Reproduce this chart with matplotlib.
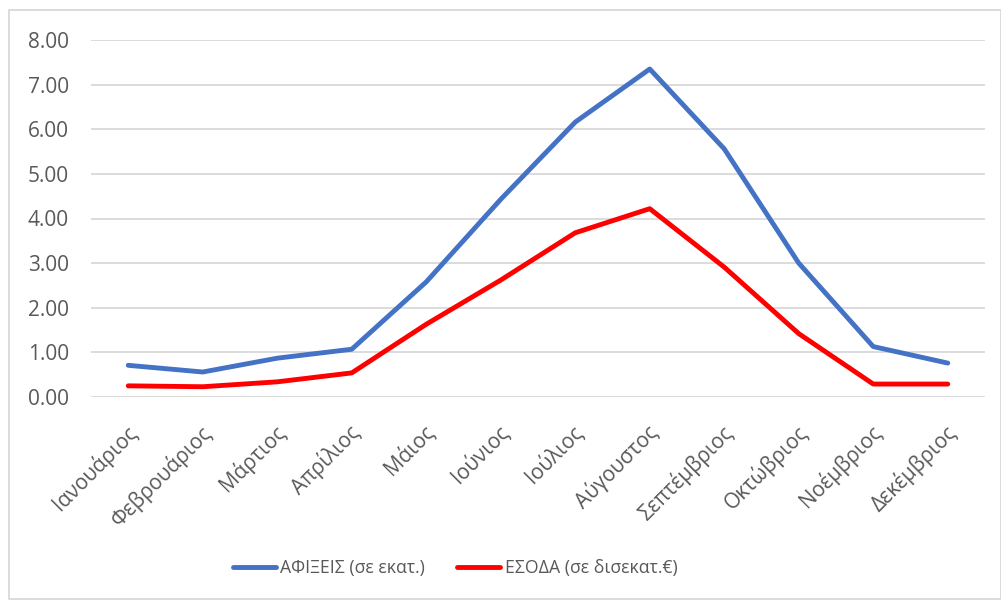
import numpy as np
import matplotlib.pyplot as plt
from matplotlib.patches import Rectangle
from matplotlib import transforms

plt.rcParams['font.family'] = ['Open Sans', 'DejaVu Sans']

months = ['Ιανουάριος', 'Φεβρουάριος', 'Μάρτιος', 'Απρίλιος', 'Μάιος', 'Ιούνιος',
          'Ιούλιος', 'Αύγουστος', 'Σεπτέμβριος', 'Οκτώβριος', 'Νοέμβριος', 'Δεκέμβριος']
arrivals = [0.71, 0.56, 0.87, 1.07, 2.58, 4.43, 6.16, 7.35, 5.56, 3.00, 1.13, 0.76]
revenue = [0.25, 0.23, 0.34, 0.54, 1.63, 2.62, 3.68, 4.22, 2.91, 1.42, 0.29, 0.29]
yticks = np.arange(0, 9, 1)

label_color = '#595959'
grid_color = '#D9D9D9'

fig = plt.figure(figsize=(10.01, 6.01), dpi=100)
ax = fig.add_axes([91 / 1001, 1 - 397 / 601, (985 - 91) / 1001, (397 - 40) / 601])

x = np.arange(len(months))
ax.plot(x, arrivals, color='#4472C4', lw=3.5, solid_capstyle='round',
        solid_joinstyle='round', label='ΑΦΙΞΕΙΣ (σε εκατ.)')
ax.plot(x, revenue, color='#FF0000', lw=3.5, solid_capstyle='round',
        solid_joinstyle='round', label='ΕΣΟΔΑ (σε δισεκατ.€)')

ax.set_xlim(-0.5, len(months) - 0.5)
ax.set_ylim(0, 8)
ax.set_yticks(yticks)
ax.set_yticklabels([f'{v:.2f}' for v in yticks])
ax.yaxis.grid(True, color=grid_color, lw=1.3)
ax.set_axisbelow(True)
for s in ax.spines.values():
    s.set_visible(False)
ax.tick_params(axis='y', length=0, pad=16, labelsize=15, labelcolor=label_color)
ax.tick_params(axis='x', length=0, pad=0, labelsize=15, labelcolor=label_color)

ax.set_xticks(x)
ax.set_xticklabels(months, rotation=45, ha='right', va='top', rotation_mode='anchor')
# shift rotated labels so they end just right of / below the tick
offset = transforms.ScaledTranslation(-3 / 100, -24 / 100, fig.dpi_scale_trans)
for lbl in ax.get_xticklabels():
    lbl.set_transform(lbl.get_transform() + offset)

fig.legend(loc='center', bbox_to_anchor=(455 / 1001, 1 - 568 / 601), ncol=2,
           frameon=False, fontsize=12.7, labelcolor=label_color,
           handlelength=2.45, handletextpad=0.25, columnspacing=1.8)

fig.patches.append(Rectangle((9 / 1001, 2 / 601), 1 - 9 / 1001, 1 - 12 / 601,
                             transform=fig.transFigure, fill=False,
                             edgecolor=grid_color, lw=1.3))

fig.savefig('out.png', dpi=100)
